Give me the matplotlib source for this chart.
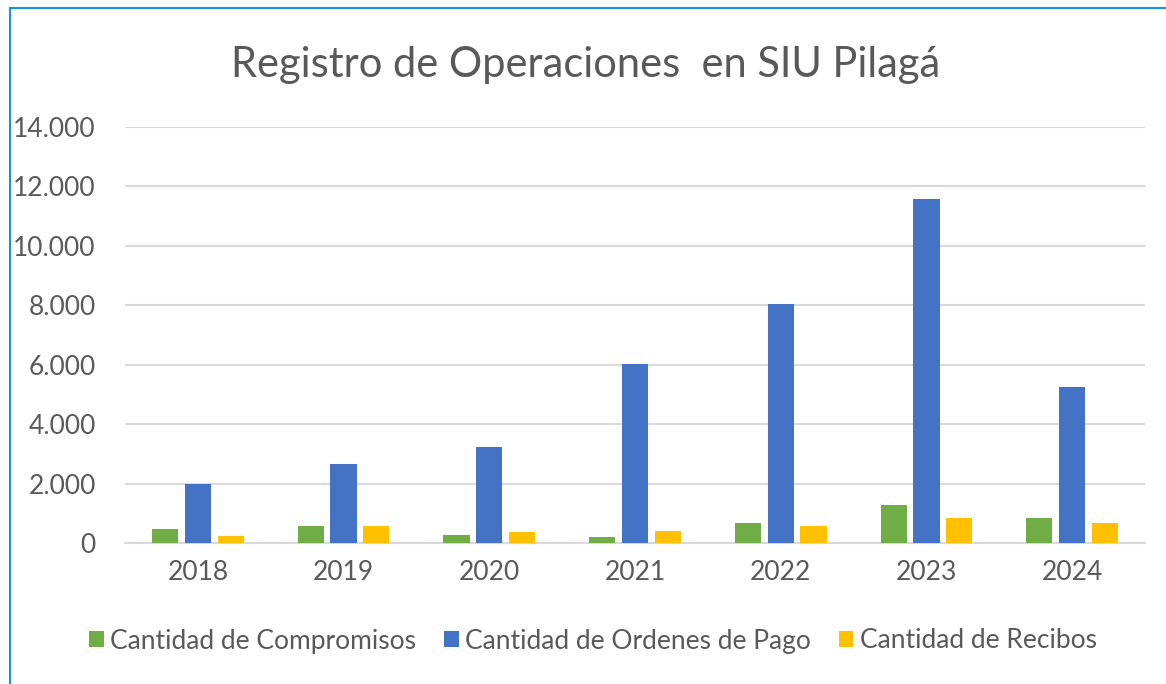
import matplotlib
matplotlib.use("Agg")
import matplotlib.pyplot as plt
import numpy as np
from matplotlib.lines import Line2D
from matplotlib.ticker import FuncFormatter, MultipleLocator

years = ["2018", "2019", "2020", "2021", "2022", "2023", "2024"]
compromisos = [470, 570, 260, 210, 680, 1280, 840]
ordenes_pago = [1990, 2670, 3240, 6040, 8040, 11580, 5240]
recibos = [220, 580, 380, 410, 570, 840, 670]

series_names = ["Cantidad de Compromisos", "Cantidad de Ordenes de Pago", "Cantidad de Recibos"]
colors = ["#70AD47", "#4472C4", "#FFC000"]

plt.rcParams['font.family'] = ['Lato', 'DejaVu Sans']
text_color = "#595959"

fig = plt.figure(figsize=(11.66, 6.84), dpi=100)
ax = fig.add_axes([125/1166, 1 - 543/684, (1145-125)/1166, (543-127)/684])

x = np.arange(len(years))
w = 0.18
step = 0.225
for i, (vals, name, c) in enumerate(zip([compromisos, ordenes_pago, recibos], series_names, colors)):
    ax.bar(x + (i - 1) * step, vals, width=w, color=c, label=name, zorder=3)

ax.set_xlim(-0.5, len(years) - 0.5)
ax.set_ylim(0, 14000)
ax.yaxis.set_major_locator(MultipleLocator(2000))
ax.yaxis.set_major_formatter(FuncFormatter(lambda v, p: f"{int(v):,}".replace(",", ".")))
ax.set_xticks(x)
ax.set_xticklabels(years)
ax.grid(axis='y', color='#D9D9D9', linewidth=1.5, zorder=0)
for s in ["top", "right", "left"]:
    ax.spines[s].set_visible(False)
ax.spines["bottom"].set_color("#D9D9D9")
ax.spines["bottom"].set_linewidth(1.5)
ax.tick_params(axis='both', length=0, labelsize=19, colors=text_color)
ax.tick_params(axis='y', pad=21)
ax.tick_params(axis='x', pad=12)

fig.text(586/1166, 1 - 65/684, "Registro de Operaciones  en SIU Pilagá", ha='center', va='center',
         fontsize=30, color=text_color)

leg = fig.legend(loc='center', bbox_to_anchor=(593/1166, 1 - 641/684), ncol=3, frameon=False,
                 fontsize=19, handlelength=0.55, handleheight=0.55, handletextpad=0.25, columnspacing=1.05)
for t in leg.get_texts():
    t.set_color(text_color)

fig.add_artist(Line2D([10/1166, 10/1166], [0, 1 - 8/684], color="#1E90D8", linewidth=1.5, transform=fig.transFigure))
fig.add_artist(Line2D([10/1166, 1], [1 - 8/684, 1 - 8/684], color="#1E90D8", linewidth=1.5, transform=fig.transFigure))

fig.savefig("out.png", dpi=100)
